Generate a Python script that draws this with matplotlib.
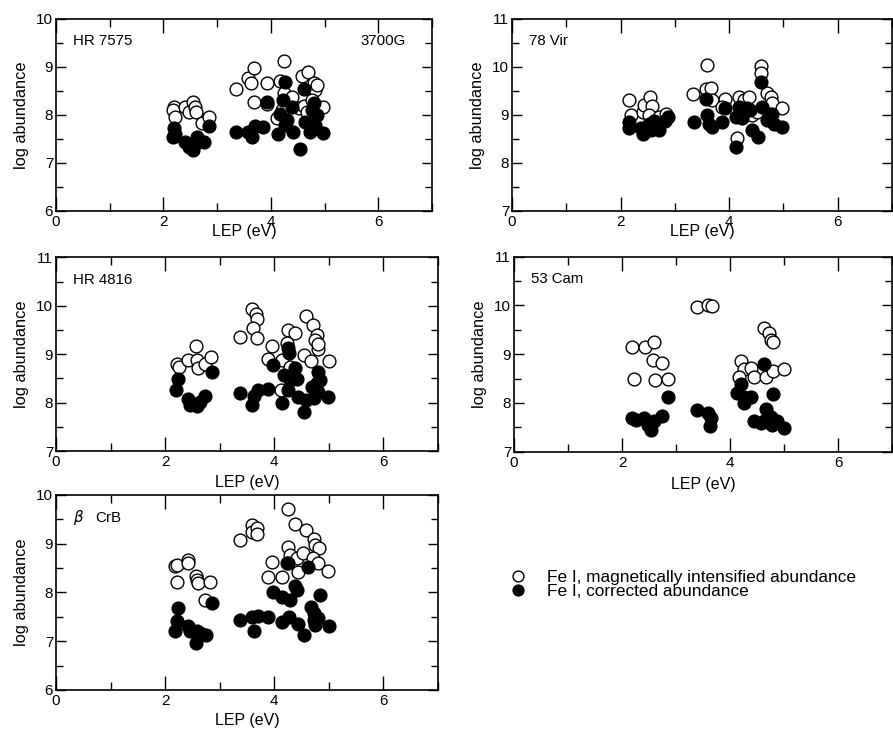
import matplotlib
matplotlib.use('Agg')
import matplotlib.pyplot as plt
from matplotlib.ticker import MultipleLocator

plt.rcParams['font.family'] = ['Liberation Sans', 'DejaVu Sans']
plt.rcParams['mathtext.fontset'] = 'dejavusans'

# HR 7575 -- Fe I lines, LEP (eV) vs log abundance
hr7575_lep_mag = [2.19, 2.17, 2.22, 2.40, 2.47, 2.55, 2.59, 2.61, 2.71, 2.84,
                  3.35, 3.58, 3.68, 3.63, 3.68, 3.93, 3.93, 4.17, 4.24, 4.24,
                  4.39, 4.11, 4.20, 4.52, 4.58, 4.62, 4.70, 4.80, 4.83, 4.86,
                  4.76, 4.97, 4.67]
hr7575_ab_mag = [8.17, 8.10, 7.96, 8.16, 8.07, 8.28, 8.17, 8.07, 7.84, 7.96,
                 8.55, 8.78, 8.97, 8.67, 8.27, 8.66, 8.22, 8.71, 9.12, 8.45,
                 8.38, 7.93, 8.10, 8.14, 8.81, 8.18, 8.90, 8.66, 8.52, 8.62,
                 8.31, 8.17, 8.07]
hr7575_lep_cor = [2.19, 2.17, 2.22, 2.40, 2.47, 2.55, 2.62, 2.61, 2.75, 2.84,
                  3.35, 3.58, 3.65, 3.71, 3.86, 3.93, 4.14, 4.17, 4.22, 4.27,
                  4.30, 4.27, 4.39, 4.42, 4.55, 4.61, 4.64, 4.76, 4.80, 4.73,
                  4.83, 4.86, 4.97]
hr7575_ab_cor = [7.72, 7.54, 7.61, 7.44, 7.34, 7.27, 7.54, 7.41, 7.44, 7.77,
                 7.65, 7.65, 7.54, 7.77, 7.75, 8.27, 7.61, 8.03, 8.31, 8.69,
                 7.89, 7.79, 8.17, 7.65, 7.30, 8.55, 7.86, 8.10, 8.24, 7.65,
                 7.79, 8.00, 7.63]

# 78 Vir
vir78_lep_mag = [2.16, 2.20, 2.41, 2.44, 2.55, 2.58, 2.53, 2.71, 2.84, 3.34,
                 3.60, 3.57, 3.66, 3.69, 3.92, 3.87, 4.15, 4.18, 4.27, 4.21,
                 4.36, 4.42, 4.51, 4.59, 4.59, 4.70, 4.77, 4.79, 4.97, 4.73]
vir78_ab_mag = [9.31, 9.00, 9.07, 9.21, 9.37, 9.18, 9.00, 8.96, 9.03, 9.43,
                10.04, 9.55, 9.57, 9.31, 9.34, 9.16, 8.51, 9.38, 9.31, 9.14,
                9.38, 9.00, 9.07, 10.01, 9.88, 9.45, 9.38, 9.24, 9.14, 9.03]
vir78_lep_cor = [2.16, 2.16, 2.38, 2.41, 2.53, 2.56, 2.61, 2.71, 2.82, 2.87,
                 3.35, 3.57, 3.60, 3.63, 3.69, 3.87, 3.93, 4.13, 4.13, 4.18,
                 4.24, 4.33, 4.39, 4.42, 4.54, 4.59, 4.60, 4.70, 4.79, 4.82,
                 4.97]
vir78_ab_cor = [8.86, 8.72, 8.72, 8.61, 8.82, 8.68, 8.88, 8.68, 8.88, 8.96,
                8.86, 9.34, 9.00, 8.82, 8.75, 8.86, 9.14, 8.34, 8.96, 9.17,
                8.93, 9.14, 9.10, 8.68, 8.54, 9.69, 9.17, 8.89, 9.03, 8.81,
                8.75]

# HR 4816
hr4816_lep_mag = [2.21, 2.26, 2.42, 2.57, 2.59, 2.61, 2.73, 2.84, 3.37, 3.60,
                  3.66, 3.69, 3.61, 3.68, 3.95, 3.89, 4.15, 4.13, 4.26, 4.38,
                  4.24, 4.29, 4.55, 4.59, 4.71, 4.78, 4.75, 4.81, 4.67, 5.00,
                  4.81]
hr4816_ab_mag = [8.80, 8.74, 8.89, 9.17, 8.89, 8.72, 8.80, 8.95, 9.36, 9.93,
                 9.83, 9.72, 9.55, 9.33, 9.17, 8.91, 8.88, 8.27, 9.50, 9.44,
                 9.24, 8.74, 8.98, 9.79, 9.60, 9.39, 9.29, 9.10, 8.86, 8.86,
                 9.22]
hr4816_lep_cor = [2.24, 2.20, 2.42, 2.46, 2.58, 2.63, 2.73, 2.85, 3.37, 3.59,
                  3.62, 3.71, 3.89, 3.97, 4.15, 4.18, 4.26, 4.27, 4.29, 4.26,
                  4.38, 4.41, 4.44, 4.54, 4.59, 4.69, 4.72, 4.78, 4.81, 4.84,
                  4.81, 4.99]
hr4816_ab_cor = [8.48, 8.27, 8.07, 7.95, 7.93, 8.02, 8.14, 8.64, 8.20, 7.95,
                 8.14, 8.26, 8.29, 8.78, 8.00, 8.57, 9.12, 9.02, 8.47, 8.26,
                 8.71, 8.48, 8.12, 7.81, 8.05, 8.33, 8.09, 8.41, 8.64, 8.47,
                 8.22, 8.11]

# 53 Cam
cam53_lep_mag = [2.18, 2.42, 2.59, 2.57, 2.74, 2.22, 2.61, 2.85, 3.39, 3.60,
                 3.66, 4.62, 4.72, 4.75, 4.80, 4.21, 4.26, 4.38, 4.17, 4.45,
                 4.66, 4.80, 5.00]
cam53_ab_mag = [9.15, 9.14, 9.24, 8.88, 8.81, 8.49, 8.47, 8.49, 9.96, 10.01,
                9.98, 9.53, 9.44, 9.30, 9.26, 8.87, 8.69, 8.71, 8.54, 8.54,
                8.53, 8.66, 8.69]
cam53_lep_cor = [2.18, 2.25, 2.40, 2.48, 2.54, 2.60, 2.74, 2.86, 3.39, 3.60,
                 3.65, 3.62, 4.21, 4.12, 4.26, 4.38, 4.25, 4.62, 4.80, 4.45,
                 4.66, 4.63, 4.75, 4.78, 4.87, 5.00, 4.57]
cam53_ab_cor = [7.69, 7.64, 7.69, 7.55, 7.45, 7.62, 7.73, 8.12, 7.86, 7.79,
                7.69, 7.53, 8.39, 8.20, 8.12, 8.13, 7.99, 8.80, 8.18, 7.62,
                7.87, 7.62, 7.72, 7.55, 7.62, 7.48, 7.58]

# beta CrB
bcrb_lep_mag = [2.18, 2.22, 2.42, 2.41, 2.22, 2.57, 2.59, 2.61, 2.83, 2.73,
                3.37, 3.60, 3.59, 3.68, 3.69, 3.95, 3.89, 4.15, 4.26, 4.38,
                4.58, 4.26, 4.28, 4.41, 4.44, 4.53, 4.73, 4.75, 4.82, 4.71,
                4.81, 4.99, 4.23]
bcrb_ab_mag = [8.54, 8.56, 8.67, 8.61, 8.22, 8.34, 8.26, 8.19, 8.22, 7.85,
               9.08, 9.38, 9.25, 9.32, 9.21, 8.63, 8.32, 8.31, 9.71, 9.41,
               9.28, 8.94, 8.77, 8.70, 8.43, 8.80, 9.09, 8.97, 8.91, 8.70,
               8.61, 8.45, 8.60]
bcrb_lep_cor = [2.24, 2.21, 2.18, 2.41, 2.46, 2.58, 2.63, 2.75, 2.57, 2.85,
                3.37, 3.59, 3.62, 3.71, 3.89, 3.97, 4.15, 4.26, 4.29, 4.38,
                4.41, 4.15, 4.27, 4.44, 4.54, 4.61, 4.67, 4.72, 4.75, 4.81,
                4.84, 5.00, 4.73]
bcrb_ab_cor = [7.68, 7.42, 7.22, 7.31, 7.20, 7.22, 7.16, 7.13, 6.97, 7.78,
               7.44, 7.50, 7.22, 7.52, 7.49, 8.00, 7.91, 8.60, 7.85, 8.13,
               8.05, 7.40, 7.50, 7.35, 7.13, 8.52, 7.70, 7.57, 7.33, 7.47,
               7.95, 7.31, 7.44]

legend_labels = ['Fe I, magnetically intensified abundance',
                 'Fe I, corrected abundance']

# (name, axes rect, y-limits, xlabel pad, data)
panels = [
    ('HR 7575', [0.0627, 0.7106, 0.4211, 0.2634], (6, 10), -4,
     hr7575_lep_mag, hr7575_ab_mag, hr7575_lep_cor, hr7575_ab_cor),
    ('78 Vir', [0.5733, 0.7106, 0.4256, 0.2634], (7, 11), -4,
     vir78_lep_mag, vir78_ab_mag, vir78_lep_cor, vir78_ab_cor),
    ('HR 4816', [0.0627, 0.3813, 0.4278, 0.2657], (7, 11), 4.5,
     hr4816_lep_mag, hr4816_ab_mag, hr4816_lep_cor, hr4816_ab_cor),
    ('53 Cam', [0.5756, 0.3804, 0.4234, 0.2675], (7, 11), 5,
     cam53_lep_mag, cam53_ab_mag, cam53_lep_cor, cam53_ab_cor),
    (r'$\it{\beta}$   CrB', [0.0627, 0.0535, 0.4278, 0.2675], (6, 10), 3.5,
     bcrb_lep_mag, bcrb_ab_mag, bcrb_lep_cor, bcrb_ab_cor),
]

fig = plt.figure(figsize=(8.93, 7.29), dpi=100)

handles = None
for name, rect, ylim, xpad, lep_m, ab_m, lep_c, ab_c in panels:
    ax = fig.add_axes(rect)
    h_open, = ax.plot(lep_m, ab_m, 'o', ms=9.2, mfc='white', mec='black', mew=1.0)
    h_fill, = ax.plot(lep_c, ab_c, 'o', ms=9.2, mfc='black', mec='black', mew=1.0)
    if handles is None:
        handles = [h_open, h_fill]

    ax.set_xlim(0, 7)
    ax.set_ylim(*ylim)
    ax.xaxis.set_major_locator(MultipleLocator(2))
    ax.xaxis.set_minor_locator(MultipleLocator(1))
    ax.yaxis.set_major_locator(MultipleLocator(1))
    ax.yaxis.set_minor_locator(MultipleLocator(0.5))
    ax.tick_params(which='both', direction='in', top=True, right=True,
                   labelsize=11, width=1.0)
    ax.tick_params(axis='x', which='major', length=10, pad=3)
    ax.tick_params(axis='x', which='minor', length=6)
    ax.tick_params(axis='y', which='major', length=7, pad=2)
    ax.tick_params(axis='y', which='minor', length=5)
    for sp in ax.spines.values():
        sp.set_linewidth(1.2)

    ax.set_xlabel('LEP (eV)', fontsize=11.5, labelpad=xpad)
    ax.set_ylabel('log abundance', fontsize=11.8, labelpad=5)
    ax.text(0.045, 0.885, name, transform=ax.transAxes, fontsize=10.8,
            ha='left', va='center')

    if name == 'HR 7575':
        ax.text(0.931, 0.885, '3700G', transform=ax.transAxes, fontsize=10.8,
                ha='right', va='center')

# one legend row per symbol, stacked tightly
for h, label, ypos in zip(handles, legend_labels, [0.2085, 0.1880]):
    fig.legend([h], [label], loc='center left', bbox_to_anchor=(0.565, ypos),
               frameon=False, fontsize=12.4, handlelength=0.6,
               handletextpad=1.34, markerscale=0.85, borderpad=0)

fig.savefig('out.png', dpi=100)
